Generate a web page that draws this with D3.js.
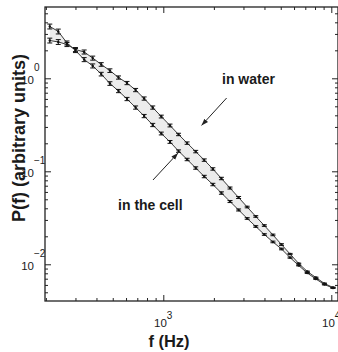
<!DOCTYPE html>
<html lang="en">
<head>
    <meta charset="UTF-8">
    <script src="https://cdn.jsdelivr.net/npm/d3@7"></script>
    <style>
        body{ margin:0; background:#fff; }
        text{ font-family:"Liberation Sans", Arial, Helvetica, sans-serif; fill:#1a1a1a; }
        .curve{ fill:none; stroke:#3a3a3a; stroke-width:1; }
        .err{ stroke:#111; stroke-width:1; }
        .tick line{ stroke:#222; stroke-width:1; }
    </style>
    <title>P(f)</title>
</head>
<body>
    <svg width="338" height="352"></svg>
    <script>
        // frequencies of the measured points (Hz)
        var freq = [211, 237, 267, 300, 338, 380, 427, 481, 541, 608, 684, 769, 865, 973,
                    1096, 1232, 1386, 1559, 1753, 1972, 2218, 2495, 2806, 3157, 3551, 3994,
                    4493, 5053, 5684, 6394, 7192, 8090, 9100, 10236];
        // power spectrum, arbitrary units
        var pWater = [2.55, 2.46, 2.31, 2.04, 1.92, 1.65, 1.41, 1.21, 1.02, 0.890, 0.748, 0.606,
                      0.485, 0.388, 0.311, 0.249, 0.201, 0.163, 0.132, 0.106, 0.0837, 0.0661,
                      0.0523, 0.0413, 0.0327, 0.0261, 0.0207, 0.0163, 0.0129, 0.0102, 0.00837,
                      0.00721, 0.00622, 0.00563];
        var pCell = [3.61, 3.19, 2.40, 1.99, 1.59, 1.36, 1.11, 0.879, 0.730, 0.599, 0.485, 0.393,
                     0.315, 0.255, 0.207, 0.165, 0.134, 0.1085, 0.0879, 0.0721, 0.0584, 0.0473,
                     0.0384, 0.0311, 0.0255, 0.0209, 0.0174, 0.0146, 0.0118, 0.00971, 0.00806,
                     0.00695, 0.00606, 0.00556];
        // relative error of each point
        var errWater = [0.06, 0.06, 0.05, 0.05, 0.05, 0.05, 0.045, 0.045, 0.04, 0.04, 0.04, 0.04,
                        0.04, 0.035, 0.035, 0.03, 0.03, 0.03, 0.03, 0.03, 0.03, 0.025, 0.025, 0.02,
                        0.02, 0.02, 0.02, 0.02, 0.015, 0.01, 0.01, 0.01, 0.01, 0.01];
        var errCell = errWater.slice();
        var yTicks = [1, 0.1, 0.01], yExp = ["0", "\u22121", "\u22122"];
        var xTicks = [1000, 10000], xExp = ["3", "4"];

        var svg = d3.select("svg");
        var mLeft = 45, mRight = 338, mTop = 7, mBottom = 301; // plot frame in pixels
        var x = d3.scaleLog().domain([197.6, 10960]).range([mLeft, mRight]);
        var y = d3.scaleLog().domain([0.00403, 5.845]).range([mBottom, mTop]);

        function minors(dom){
            var out = [];
            for (var d = -4; d <= 5; d++)
                for (var m = 2; m <= 9; m++){
                    var v = m * Math.pow(10, d);
                    if (v > dom[0] && v < dom[1]) out.push(v);
                }
            return out;
        }
        var xMinor = minors(x.domain()), yMinor = minors(y.domain());

        var water = freq.map(function(f, i){ return {f:f, p:pWater[i], e:errWater[i]}; });
        var cell = freq.map(function(f, i){ return {f:f, p:pCell[i], e:errCell[i]}; });

        // shaded band between the two spectra
        var band = freq.map(function(f, i){ return {f:f, a:pWater[i], b:pCell[i]}; });
        svg.append("path")
            .datum(band)
            .attr("fill", "#ececec")
            .attr("d", d3.area()
                .x(function(d){ return x(d.f); })
                .y0(function(d){ return y(d.a); })
                .y1(function(d){ return y(d.b); }));

        [water, cell].forEach(function(s){
            svg.append("path")
                .datum(s)
                .attr("class", "curve")
                .attr("d", d3.line()
                    .x(function(d){ return x(d.f); })
                    .y(function(d){ return y(d.p); }));
            var g = svg.append("g");
            var pts = g.selectAll("g").data(s).enter().append("g");
            pts.append("line").attr("class", "err")
                .attr("x1", function(d){ return x(d.f); })
                .attr("x2", function(d){ return x(d.f); })
                .attr("y1", function(d){ return y(d.p * (1 + d.e)); })
                .attr("y2", function(d){ return y(d.p * (1 - d.e)); });
            [1, -1].forEach(function(sg){
                pts.append("line").attr("class", "err")
                    .attr("x1", function(d){ return x(d.f) - 2.5; })
                    .attr("x2", function(d){ return x(d.f) + 2.5; })
                    .attr("y1", function(d){ return y(d.p * (1 + sg * d.e)); })
                    .attr("y2", function(d){ return y(d.p * (1 + sg * d.e)); });
            });
            pts.append("circle")
                .attr("cx", function(d){ return x(d.f); })
                .attr("cy", function(d){ return y(d.p); })
                .attr("r", 1.2)
                .attr("fill", "#111");
        });

        // ticks on all four sides, pointing inward
        function axes(axis, scale, pos, transform){
            svg.append("g").attr("transform", transform)
                .call(axis(scale).tickValues(pos.major).tickSize(-6).tickSizeOuter(0).tickFormat(""))
                .select(".domain").remove();
            svg.append("g").attr("transform", transform)
                .call(axis(scale).tickValues(pos.minor).tickSize(-3).tickSizeOuter(0).tickFormat(""))
                .select(".domain").remove();
        }
        axes(d3.axisBottom, x, {major:xTicks, minor:xMinor}, "translate(0," + mBottom + ")");
        axes(d3.axisTop, x, {major:xTicks, minor:xMinor}, "translate(0," + mTop + ")");
        axes(d3.axisLeft, y, {major:yTicks, minor:yMinor}, "translate(" + mLeft + ",0)");
        axes(d3.axisRight, y, {major:yTicks, minor:yMinor}, "translate(" + mRight + ",0)");

        svg.append("rect")
            .attr("x", mLeft).attr("y", mTop)
            .attr("width", mRight - mLeft).attr("height", mBottom - mTop)
            .attr("fill", "none").attr("stroke", "#222").attr("stroke-width", 1.3);

        // tick labels 10^n
        yTicks.forEach(function(v, i){
            svg.append("text").attr("x", 34).attr("y", y(v) + 6)
                .attr("text-anchor", "end").attr("font-size", "11.5px").text("10");
            svg.append("text").attr("x", 34).attr("y", y(v) - 7)
                .attr("font-size", "10px").text(yExp[i]);
        });
        xTicks.forEach(function(v, i){
            svg.append("text").attr("x", x(v) + 3.5).attr("y", 327)
                .attr("text-anchor", "end").attr("font-size", "11.5px").text("10");
            svg.append("text").attr("x", x(v) + 3.5).attr("y", 319)
                .attr("font-size", "10px").text(xExp[i]);
        });

        // axis titles
        svg.append("text")
            .attr("x", 169).attr("y", 347)
            .attr("text-anchor", "middle")
            .attr("font-size", "16.5px").attr("font-weight", "bold")
            .text("f (Hz)");
        svg.append("text")
            .attr("transform", "translate(25,138) rotate(-90)")
            .attr("text-anchor", "middle")
            .attr("font-size", "18px").attr("font-weight", "bold")
            .text("P(f) (arbitrary units)");

        // annotations
        svg.append("defs").append("marker")
            .attr("id", "arr").attr("viewBox", "0 0 10 10")
            .attr("refX", 10).attr("refY", 5)
            .attr("markerWidth", 7).attr("markerHeight", 7)
            .attr("orient", "auto")
            .append("path").attr("d", "M0,1.5L10,5L0,8.5z").attr("fill", "#222");
        var notes = [
            {text:"in water", tf:2236, tp:0.868, f0:2382, p0:0.614, f1:1688, p1:0.311},
            {text:"in the cell", tf:538, tp:0.0388, f0:868, p0:0.0806, f1:1223, p1:0.157}
        ];
        notes.forEach(function(n){
            svg.append("text").attr("x", x(n.tf)).attr("y", y(n.tp))
                .attr("font-size", "14px").attr("font-weight", "bold").text(n.text);
            svg.append("line")
                .attr("x1", x(n.f0)).attr("y1", y(n.p0))
                .attr("x2", x(n.f1)).attr("y2", y(n.p1))
                .attr("stroke", "#222").attr("stroke-width", 1)
                .attr("marker-end", "url(#arr)");
        });
    </script>
</body>
</html>
